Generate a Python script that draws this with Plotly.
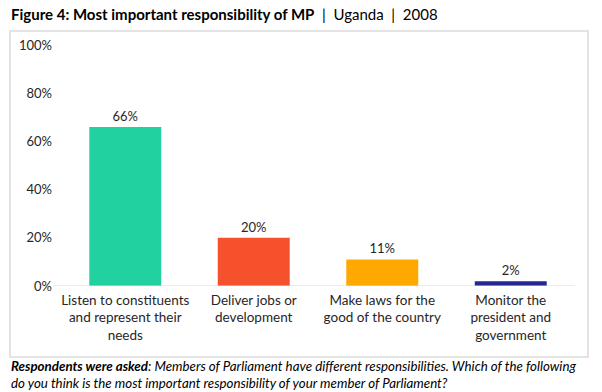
import plotly.graph_objects as go

categories = ["Listen to constituents<br>and represent their<br>needs",
              "Deliver jobs or<br>development",
              "Make laws for the<br>good of the country",
              "Monitor the<br>president and<br>government"]
values = [66, 20, 11, 2]
labels = ["66%", "20%", "11%", "2%"]
colors = ["#21D19F", "#F4512C", "#FFA800", "#252796"]
y_ticks = [0, 20, 40, 60, 80, 100]
y_tick_labels = ["0%", "20%", "40%", "60%", "80%", "100%"]

FONT = "Lato"
TXT = "#262626"

L, R, T, B = 61, 27, 45, 106
W, H = 602, 392
pw, ph = W - L - R, H - T - B

def px(x):
    return (x - L) / pw

def py(y):
    return (H - B - y) / ph

fig = go.Figure(go.Bar(
    x=categories, y=values, marker_color=colors, marker_line_width=0,
    text=labels, textposition="outside", cliponaxis=False,
    textfont=dict(family=FONT, size=13, color=TXT), width=0.56,
))

fig.update_layout(
    width=W, height=H, margin=dict(l=L, r=R, t=T, b=B),
    paper_bgcolor="white", plot_bgcolor="rgba(0,0,0,0)", showlegend=False,
    font=dict(family=FONT, size=13, color=TXT),
    xaxis=dict(showgrid=False, showline=False, zeroline=False, ticks="",
               ticklabelstandoff=4,
               tickfont=dict(family=FONT, size=13.5, color=TXT)),
    yaxis=dict(range=[0, 100], tickvals=y_ticks, ticktext=y_tick_labels,
               showgrid=False, zeroline=False, showline=False, ticks="",
               ticklabelstandoff=8,
               tickfont=dict(family=FONT, size=13, color=TXT)),
    shapes=[
        dict(type="rect", xref="paper", yref="paper",
             x0=px(10), x1=px(588), y0=py(357), y1=py(31),
             line=dict(color="#DCDCDC", width=1.5), layer="above"),
        dict(type="line", xref="paper", yref="y",
             x0=px(53), x1=1, y0=0, y1=0,
             line=dict(color="#D9D9D9", width=1), layer="above"),
    ],
    annotations=[
        dict(xref="paper", yref="paper", x=px(9), y=py(14), xanchor="left", yanchor="middle",
             showarrow=False, align="left",
             text="<b>Figure 4: Most important responsibility of MP</b>  |  Uganda  |  2008",
             font=dict(family=FONT, size=15, color="#000000")),
        dict(xref="paper", yref="paper", x=px(9), y=py(356), xanchor="left", yanchor="top",
             showarrow=False, align="left",
             text="<b><i>Respondents were asked</i></b><i>: Members of Parliament have different responsibilities. Which of the following<br>do you think is the most important responsibility of your member of Parliament?</i>",
             font=dict(family=FONT, size=13.3, color="#000000")),
    ],
)

fig.write_html("out.html", config={"displayModeBar": False},
               post_script="document.body.style.margin='0';document.body.style.padding='0';")
